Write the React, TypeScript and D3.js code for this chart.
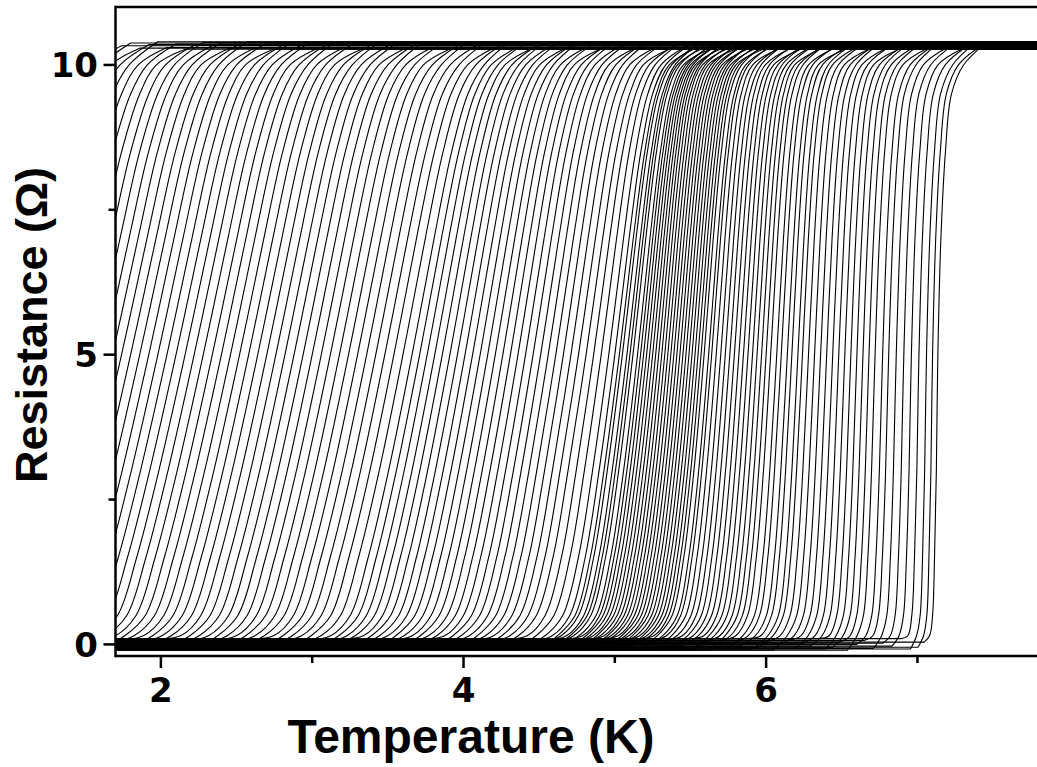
import * as React from "react";
import * as d3 from "d3";

// R(T) sweeps, one per field step: temperature where each sweep crosses R = 5 ohm
const midT = [
  1.02, 1.08, 1.14, 1.2, 1.26, 1.32, 1.38, 1.44, 1.5, 1.56, 1.62, 1.68, 1.74, 1.8, 1.86, 1.92,
  1.98, 2.04, 2.1, 2.16, 2.22, 2.28, 2.34, 2.4, 2.46, 2.52, 2.58, 2.64, 2.7, 2.76, 2.82, 2.88,
  2.94, 3.0, 3.06, 3.12, 3.18, 3.24, 3.3, 3.36, 3.42, 3.48, 3.54, 3.6,
  3.66, 3.71, 3.76, 3.81, 3.86, 3.91, 3.96, 4.01, 4.06, 4.11, 4.16, 4.21, 4.26, 4.31, 4.36,
  4.41, 4.46, 4.51, 4.56, 4.61, 4.66, 4.71, 4.76, 4.81, 4.86, 4.91, 4.96,
  5.0, 5.03, 5.05, 5.08, 5.1, 5.12, 5.15, 5.17, 5.19, 5.21, 5.23, 5.25, 5.27, 5.29, 5.31,
  5.33, 5.35, 5.37, 5.39, 5.41, 5.43, 5.45, 5.47, 5.49, 5.51, 5.53, 5.55, 5.57, 5.59, 5.62, 5.64,
  5.67, 5.7, 5.73, 5.76, 5.79, 5.82, 5.85, 5.88, 5.91, 5.94, 5.97, 6.0, 6.03, 6.07, 6.1, 6.14,
  6.17, 6.21, 6.24, 6.28, 6.32, 6.36, 6.4, 6.44, 6.48, 6.52, 6.56, 6.6, 6.64, 6.68, 6.72, 6.77,
  6.81, 6.86, 6.91, 6.96, 7.01, 7.06, 7.1, 7.135,
];

// resistance levels read along each transition
const levelsR = [0.15, 0.5, 1.5, 3, 5, 7, 8.5, 9.5, 10.0];

// offset (K) from midT: [leaves zero, ...levelsR, reaches normal state]
const shapeAnchors = [1.5, 3.5, 4.8, 5.3, 6.2, 7.13];
const shapeOffsets = [
  [-0.8, -0.6, -0.46, -0.33, -0.18, 0, 0.17, 0.3, 0.42, 0.53, 0.72],
  [-0.72, -0.55, -0.42, -0.3, -0.16, 0, 0.15, 0.27, 0.38, 0.49, 0.66],
  [-0.6, -0.45, -0.33, -0.22, -0.12, 0, 0.11, 0.2, 0.29, 0.38, 0.55],
  [-0.5, -0.36, -0.25, -0.16, -0.08, 0, 0.07, 0.13, 0.19, 0.27, 0.45],
  [-0.3, -0.2, -0.13, -0.08, -0.04, 0, 0.04, 0.08, 0.13, 0.2, 0.38],
  [-0.09, -0.055, -0.035, -0.022, -0.01, 0, 0.02, 0.05, 0.09, 0.17, 0.32],
];

// scatter of the zero and normal-state plateaus between sweeps
const baseLevels = [-0.05, 0.04, -0.1, 0.0, 0.07, -0.07, 0.02, -0.03, 0.1, -0.08];
const normalLevels = [10.33, 10.38, 10.29, 10.35, 10.4, 10.3, 10.36, 10.27, 10.34, 10.39];

const xTicks = [2, 3, 4, 5, 6, 7];
const xLabels = [2, 4, 6];
const yTicks = [0, 2.5, 5, 7.5, 10];
const yLabels = [0, 5, 10];

const W = 1037;
const H = 767;
const left = 115.5;
const right = 1040;
const top = 7;
const bottom = 656;

export default function App() {
  const x = d3.scaleLinear().domain([1.7, 7.81]).range([left, right]);
  const y = d3.scaleLinear().domain([-0.2, 11.0]).range([bottom, top]);
  const shape: any = d3.scaleLinear<any>().domain(shapeAnchors).range(shapeOffsets as any).clamp(true);

  const trans = d3
    .line<[number, number]>()
    .x((d) => x(d[0]))
    .y((d) => y(d[1]))
    .curve(d3.curveCatmullRom.alpha(0.5));

  const paths = midT.map((t5, i) => {
    const off: number[] = shape(t5);
    const base = baseLevels[i % baseLevels.length];
    const norm = normalLevels[i % normalLevels.length];
    const pts: [number, number][] = [[t5 + off[0], base]];
    levelsR.forEach((r, j) => pts.push([t5 + off[j + 1], r]));
    pts.push([t5 + off[10], norm]);
    const body = (trans(pts) as string).slice(1);
    // flat superconducting and normal-state parts as straight runs
    return `M${x(1.5)},${y(base)}L${body}L${x(8)},${y(norm)}`;
  });

  const font = "'Liberation Sans', Arial, Helvetica, sans-serif";
  const tickFont = "'DejaVu Sans', 'Liberation Sans', Arial, sans-serif";

  return (
    <svg width={W} height={H} style={{ position: "absolute", left: 0, top: 0, background: "#fff" }}>
      <defs>
        <clipPath id="plot">
          <rect x={left} y={top} width={right - left} height={bottom - top} />
        </clipPath>
      </defs>
      <g clipPath="url(#plot)" fill="none" stroke="#000" strokeWidth={1.1}>
        {paths.map((d, i) => (
          <path key={i} d={d} />
        ))}
      </g>
      {/* frame */}
      <g stroke="#000" strokeWidth={2.5} fill="none">
        <line x1={left} x2={right} y1={top} y2={top} />
        <line x1={left} x2={left} y1={top - 1.25} y2={bottom + 1.25} />
        <line x1={left} x2={right} y1={bottom} y2={bottom} />
        {xTicks.map((t) => (
          <line key={"xt" + t} x1={x(t)} x2={x(t)} y1={bottom} y2={bottom + (xLabels.includes(t) ? 12 : 7)} />
        ))}
        {yTicks.map((t) => (
          <line key={"yt" + t} x1={left} x2={left - (yLabels.includes(t) ? 12 : 7)} y1={y(t)} y2={y(t)} />
        ))}
      </g>
      <g fontFamily={tickFont} fontWeight="bold" fontSize={34} fill="#000">
        {xLabels.map((t) => (
          <text key={"xl" + t} x={x(t)} y={702} textAnchor="middle">
            {t}
          </text>
        ))}
        {yLabels.map((t) => (
          <text key={"yl" + t} x={98} y={y(t) + 12.5} textAnchor="end">
            {t}
          </text>
        ))}
      </g>
      <text x={471} y={753} textAnchor="middle" fontFamily={font} fontWeight="bold" fontSize={48}>
        Temperature (K)
      </text>
      <text
        transform="translate(47,325) rotate(-90)"
        textAnchor="middle"
        fontFamily={font}
        fontWeight="bold"
        fontSize={45}
      >
        Resistance (Ω)
      </text>
    </svg>
  );
}
